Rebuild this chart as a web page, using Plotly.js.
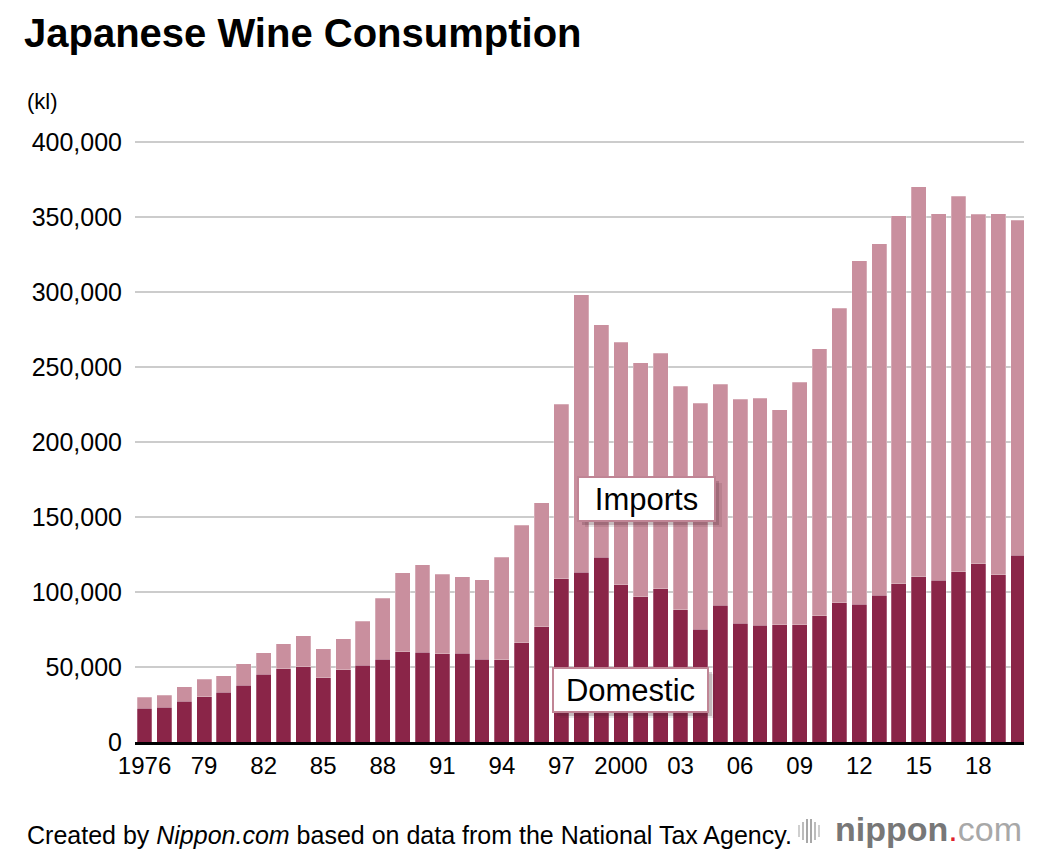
<!DOCTYPE html>
<html>
<head>
<meta charset="utf-8">
<script src="https://cdn.plot.ly/plotly-3.0.1.min.js"></script>
<style>
  html, body { margin: 0; padding: 0; background: #fff; }
  #chart { width: 1063px; height: 853px; }
</style>
</head>
<body>
<div id="chart"></div>
<script>
// Japanese wine consumption (kl)
var years = [1976, 1977, 1978, 1979, 1980, 1981, 1982, 1983, 1984, 1985,
  1986, 1987, 1988, 1989, 1990, 1991, 1992, 1993, 1994, 1995,
  1996, 1997, 1998, 1999, 2000, 2001, 2002, 2003, 2004, 2005,
  2006, 2007, 2008, 2009, 2010, 2011, 2012, 2013, 2014, 2015,
  2016, 2017, 2018, 2019, 2020];

var domestic = [22400, 23100, 27300, 30200, 33300, 37800, 45300, 48700, 50000, 42700,
  48200, 51300, 55300, 60200, 59800, 58700, 59100, 55300, 54700, 66200,
  76900, 108700, 113100, 123100, 104700, 96900, 102000, 88000, 75100, 91300,
  79300, 77800, 78000, 78300, 84100, 92800, 91800, 97900, 105400, 110100,
  107900, 113400, 118900, 111400, 124400];

var imports = [7400, 8200, 9400, 11600, 10700, 14200, 14300, 16900, 20900, 19300,
  20500, 29100, 40500, 52700, 58400, 53100, 50900, 52700, 68400, 78200,
  82700, 116400, 185100, 154900, 161700, 156000, 157300, 149100, 150700, 147100,
  149300, 151500, 143500, 161600, 178100, 196500, 228900, 234300, 245400, 260000,
  244400, 250400, 232900, 240900, 223300];

var tickYears = [1976, 1979, 1982, 1985, 1988, 1991, 1994, 1997, 2000, 2003, 2006, 2009, 2012, 2015, 2018];
var tickLabels = ['1976', '79', '82', '85', '88', '91', '94', '97', '2000', '03', '06', '09', '12', '15', '18'];

var yTicks = [0, 50000, 100000, 150000, 200000, 250000, 300000, 350000, 400000];
var yLabels = ['0', '50,000', '100,000', '150,000', '200,000', '250,000', '300,000', '350,000', '400,000'];

var FONT = '"Liberation Sans", Arial, Helvetica, sans-serif';

// plot box in pixels (used to place the page furniture around it)
var L = 135, R = 1024, T = 140, B = 742;
function px2x(px) { return (px - L) / (R - L); }
function py2y(py) { return (B - py) / (B - T); }

var data = [
  {
    type: 'bar',
    name: 'Domestic',
    x: years,
    y: domestic,
    marker: { color: '#8a2548', line: { color: 'rgba(255,255,255,0.5)', width: 0.5 } },
    hoverinfo: 'x+y+name'
  },
  {
    type: 'bar',
    name: 'Imports',
    x: years,
    y: imports,
    marker: { color: '#c98f9e', line: { color: 'rgba(255,255,255,0.5)', width: 0.5 } },
    hoverinfo: 'x+y+name'
  }
];

// label box with a soft offset shadow behind it
function labelBox(text, x, y, w) {
  var shadows = [
    { dx: 7, dy: -6, c: 'rgba(70,30,45,0.12)' },
    { dx: 4, dy: -4, c: 'rgba(70,30,45,0.22)' }
  ];
  var out = shadows.map(function (s) {
    return {
      xref: 'x', yref: 'y', x: x, y: y, text: ' ', showarrow: false,
      width: w, height: 40, bgcolor: s.c, borderpad: 1, borderwidth: 2,
      bordercolor: 'rgba(0,0,0,0)', xshift: s.dx, yshift: s.dy,
      font: { size: 31, family: FONT }
    };
  });
  out.push({
    xref: 'x', yref: 'y', x: x, y: y, text: text, showarrow: false,
    width: w, height: 40, bgcolor: '#ffffff', borderpad: 1, borderwidth: 2,
    bordercolor: '#c08595',
    font: { size: 31, family: FONT, color: '#000' }
  });
  return out;
}

var annotations = []
  .concat(labelBox('Imports', 2001.3, 162000, 133))
  .concat(labelBox('Domestic', 2000.5, 34700, 151));

annotations.push(
  {
    xref: 'paper', yref: 'paper', x: px2x(25), y: py2y(102), xanchor: 'left', yanchor: 'middle',
    text: '(kl)', showarrow: false, font: { size: 22, family: FONT, color: '#000' }
  },
  {
    xref: 'paper', yref: 'paper', x: px2x(25), y: py2y(835), xanchor: 'left', yanchor: 'middle',
    text: 'Created by <i>Nippon.com</i> based on data from the National Tax Agency.',
    showarrow: false, font: { size: 25, family: FONT, color: '#000' }
  },
  {
    xref: 'paper', yref: 'paper', x: px2x(1024), y: py2y(829), xanchor: 'right', yanchor: 'middle',
    text: '<b>nippon</b><span style="color:#e0202a">.</span><span style="color:#a8a8a8">com</span>',
    showarrow: false, font: { size: 34, family: FONT, color: '#777777' }
  }
);

// little bar-code mark in front of the nippon.com logo
var shapes = [];
var markX = [799, 803, 807, 811, 815, 819];
var markH = [12, 18, 24, 24, 18, 12];
var markC = ['#cfcfcf', '#bcbcbc', '#a8a8a8', '#a8a8a8', '#bcbcbc', '#cfcfcf'];
for (var i = 0; i < markX.length; i++) {
  shapes.push({
    type: 'line', xref: 'paper', yref: 'paper',
    x0: px2x(markX[i]), x1: px2x(markX[i]),
    y0: py2y(831 + markH[i] / 2),
    y1: py2y(831 - markH[i] / 2),
    line: { color: markC[i], width: 2 }
  });
}

var layout = {
  width: 1063,
  height: 853,
  barmode: 'stack',
  bargap: 0.25,
  showlegend: false,
  paper_bgcolor: '#ffffff',
  plot_bgcolor: '#ffffff',
  margin: { l: L, r: 1063 - R, t: T, b: 853 - B, pad: 0 },
  font: { family: FONT, color: '#000' },
  title: {
    text: '<b>Japanese Wine Consumption</b>',
    x: 24 / 1063, xanchor: 'left', xref: 'container',
    y: 1 - 33 / 853, yanchor: 'middle', yref: 'container',
    font: { size: 40, family: FONT, color: '#000' }
  },
  xaxis: {
    range: [1975.52, 2020.3],
    tickmode: 'array',
    tickvals: tickYears,
    ticktext: tickLabels,
    ticks: '',
    showgrid: false,
    zeroline: false,
    showline: true,
    linecolor: '#000',
    linewidth: 3,
    tickfont: { size: 24, family: FONT, color: '#000' },
    fixedrange: true
  },
  yaxis: {
    range: [0, 401300],
    tickmode: 'array',
    tickvals: yTicks,
    ticktext: yLabels,
    ticks: '',
    ticklabelstandoff: 12,
    showgrid: true,
    gridcolor: '#cccccc',
    gridwidth: 2,
    zeroline: false,
    showline: false,
    tickfont: { size: 25, family: FONT, color: '#000' },
    fixedrange: true
  },
  annotations: annotations,
  shapes: shapes
};

Plotly.newPlot('chart', data, layout, { displayModeBar: false, staticPlot: true });
</script>
</body>
</html>
